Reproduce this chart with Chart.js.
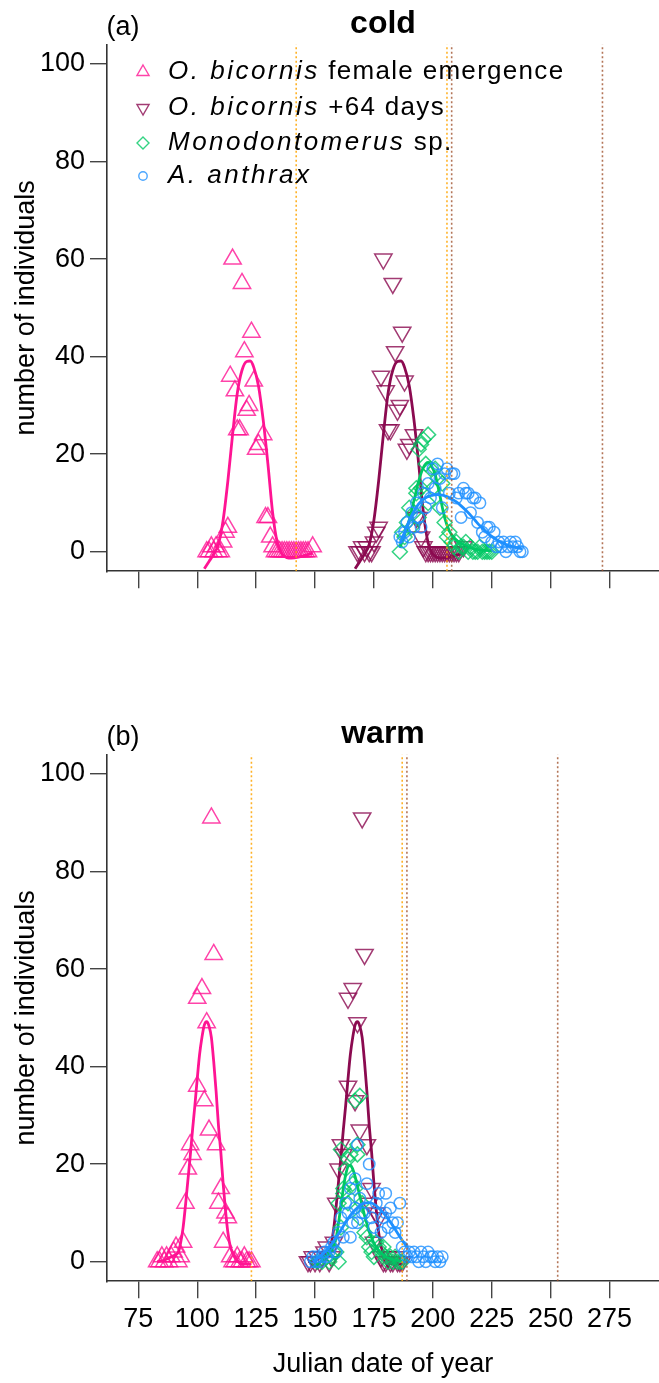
<!DOCTYPE html>
<html>
<head>
<meta charset="utf-8">
<title>Emergence of O. bicornis and its parasitoids – cold / warm</title>
<script src="https://cdn.jsdelivr.net/npm/chart.js@4.4.1/dist/chart.umd.min.js"></script>
<style>
  html, body { margin: 0; padding: 0; background: #fff; }
  #wrap { position: relative; width: 659px; height: 1383px; overflow: hidden; }
  #wrap canvas { position: absolute; left: 0; }
  #cvCold { top: 0; }
  #cvWarm { top: 710px; }
</style>
</head>
<body>
<div id="wrap">
  <canvas id="cvCold" width="659" height="600"></canvas>
  <canvas id="cvWarm" width="659" height="673"></canvas>
</div>
<script>
// === axes ===
const X_MIN = 61.7, X_MAX = 296;
const Y_MIN = -4, Y_MAX = 104;
const X_TICKS = [75, 100, 125, 150, 175, 200, 225, 250, 275];
const Y_TICKS = [0, 20, 40, 60, 80, 100];

// === cold ===
const coldFemaleDay = [104,105,106,107,108,109,110,111,112,113,114,115,116,117,118,119,120,121,122,123,124,125,126,128,129,130,131,132,133,134,135,136,137,138,139,140,141,142,143,144,145,146,147,149];
const coldFemaleN   = [0,0,1,0,1,0,0,2,4,5,36,60,33,25,25,55,41,29,30,45,35,21,22,24,7,7,3,1,0,0,0,0,0,0,0,0,0,0,0,0,0,0,0,1];
const coldShiftDay  = [168,169,170,171,172,173,174,175,176,177,178,179,180,181,182,183,184,185,186,187,188,189,190,192,193,194,195,196,197,198,199,200,201,202,203,204,205,206,207,208,209,210,211,213];
const coldShiftN    = [0,0,1,0,1,0,0,2,4,5,36,60,33,25,25,55,41,29,30,45,35,21,22,24,7,7,3,1,0,0,0,0,0,0,0,0,0,0,0,0,0,0,0,1];
const coldMonoDay   = [186,187,188,189,190,191,192,193,193,194,194,195,195,196,197,198,198,199,200,201,202,203,204,205,206,207,208,209,210,211,212,213,214,215,216,217,218,219,220,221,222,223,224,225];
const coldMonoN     = [0,4,3,6,9,5,8,12,13,21,7,13,22,23,18,24,10,17,13,17,15,9,14,6,3,4,2,1,2,0,1,1,2,0,1,0,0,0,1,0,0,0,0,0];
const coldAnthDay   = [186,187,188,189,190,191,192,193,194,195,196,197,198,199,200,201,202,203,204,205,206,207,208,209,210,211,212,213,214,215,216,217,218,219,220,221,222,223,224,225,226,227,228,229,230,231,232,233,234,235,236,237,238];
const coldAnthN     = [3,2,4,6,3,8,5,10,7,5,12,9,14,11,17,13,18,15,9,16,17,12,16,16,11,12,7,13,12,12,8,11,11,6,10,4,3,5,5,2,4,1,2,1,2,0,1,2,1,2,1,0,0];

// fitted curves (cold)
const coldFemaleFitDay = [103,105,107,109,111,113,115,117,119,121,122.5,124,126,128,130,132,134,136,138,140,143,146,149];
const coldFemaleFitN   = [-3.5,-2,-0.5,1.5,6.5,14.5,24,32.5,37.2,39,39.1,37.8,34,27,18,8,1.8,-0.5,-1.2,-1.3,-1.1,-0.7,-0.3];
const coldShiftFitDay  = [167,169,171,173,175,177,179,181,183,185,186.5,188,190,192,194,196,198,200,202,204,207,210,213];
const coldShiftFitN    = [-3.5,-2,-0.5,1.5,6.5,14.5,24,32.5,37.2,39,39.1,37.8,34,27,18,8,1.8,-0.5,-1.2,-1.3,-1.1,-0.7,-0.3];
const coldMonoFitDay   = [186,188,190,192,194,196,198,199.5,201,203,205,207,209,211,213,216,220,225];
const coldMonoFitN     = [0.8,3.5,6.5,10.5,14.5,17.3,18.3,17.5,15.8,11.5,7,4.3,2.8,2,1.5,0.8,0.3,0.2];
const coldAnthFitDay   = [186,188,190,192,194,196,198,200,202,204,206,208,210,212,214,216,218,220,222,224,226,228,230,232,234,236,238];
const coldAnthFitN     = [1.6,4,6.4,8.3,9.8,10.8,11.3,11.6,11.7,11.6,11.3,10.8,10.2,9.4,8.5,7.5,6.4,5.3,4.4,3.5,2.8,2.2,1.7,1.3,1,0.8,0.6];

const coldOrangeDays = [142, 206];
const coldBrownDays  = [208, 272];

// === warm ===
const warmFemaleDay = [83,84,85,86,87,88,89,90,91,92,93,94,95,96,97,98,100,100,102,103,104,105,106,107,108,109,110,111,112,113,114,115,116,117,118,119,120,121,122,123];
const warmFemaleN   = [0,0,1,0,1,0,1,2,3,0,1,4,12,19,24,22,36,54,56,33,49,27,91,63,24,12,15,4,10,9,1,0,0,1,0,0,1,0,0,0];
const warmShiftDay  = [147,148,149,150,151,152,153,154,155,156,157,158,159,160,161,162,164,164,166,167,168,169,170,171,172,173,174,175,176,177,178,179,180,181,182,183,184,185,186,187];
const warmShiftN    = [0,0,1,0,1,0,1,2,3,0,1,4,12,19,24,22,36,54,56,33,49,27,91,63,24,12,15,4,10,9,1,0,0,1,0,0,1,0,0,0];
const warmMonoDay   = [151,153,155,156,157,158,159,160,160,161,161,162,162,163,164,164,165,166,167,167,168,168,169,169,170,171,172,173,174,175,176,177,178,179,180,181,182,183,184,185,186,187];
const warmMonoN     = [0,0,1,0,1,2,2,12,0,23,7,14,15,19,12,21,22,16,15,33,24,22,34,9,12,6,5,3,2,1,4,3,2,3,1,0,1,0,1,0,0,0];
const warmAnthDay   = [148,149,150,151,152,153,154,155,156,157,158,159,160,161,162,163,164,165,165,166,167,167,168,168,169,170,171,172,173,174,175,176,177,178,179,180,180,181,182,183,184,185,186,187,188,189,190,191,192,193,194,195,196,197,198,199,200,201,202,203,204];
const warmAnthN     = [0,1,0,1,0,1,2,1,2,3,4,2,6,9,5,12,10,15,5,8,17,11,24,8,13,10,10,16,20,9,7,12,14,6,9,14,10,7,11,8,6,8,12,3,2,1,2,1,2,1,0,2,1,0,2,1,1,0,1,0,1];

// fitted curves (warm)
const warmFemaleFitDay = [83,86,89,91,92,93,94,95,96,97,98,99,100,101,102,103,104,105,106,107,108,109,110,111,112,113,114,115,116,117,119,121,123];
const warmFemaleFitN   = [0,0.3,1,1.5,2,4,7,11.5,16.5,21.5,27,32,37.5,42.5,46,48.5,49.2,48.3,46,41,35,28,22.5,16,10.5,6,3.2,1.8,0.8,0.2,-0.5,-0.5,-0.4];
const warmShiftFitDay  = [147,150,153,155,156,157,158,159,160,161,162,163,164,165,166,167,168,169,170,171,172,173,174,175,176,177,178,179,180,181,183,185,187];
const warmShiftFitN    = [0,0.3,1,1.5,2,4,7,11.5,16.5,21.5,27,32,37.5,42.5,46,48.5,49.2,48.3,46,41,35,28,22.5,16,10.5,6,3.2,1.8,0.8,0.2,-0.5,-0.5,-0.4];
const warmMonoFitDay   = [149,151,153,155,157,158,159,160,161,162,163,164,165,166,167,168,169,170,171,172,173,174,175,176,178,180,182,185,187];
const warmMonoFitN     = [-1.2,-0.5,0.3,1.2,2.3,3.3,5,8,11.5,15,17.8,19.5,19.8,19,17.5,15.5,13.5,11.5,9.5,7.8,6.2,4.9,3.8,3,1.8,1,0.6,0.2,0.1];
const warmAnthFitDay   = [149,151,153,155,157,159,161,163,165,167,169,171,173,175,177,179,181,183,185,187,189];
const warmAnthFitN     = [0,0.7,1.5,2.4,3.6,5,6.5,8.1,9.5,10.6,11.5,12,12.1,11.8,11,10,8.8,7.4,5.9,4.4,3];

const warmOrangeDays = [123, 187];
const warmBrownDays  = [189, 253];

// legend entries: italic part + plain part
const LEGEND = [
  { it: 'O. bicornis', rest: ' female emergence' },
  { it: 'O. bicornis', rest: ' +64 days' },
  { it: 'Monodontomerus', rest: ' sp.' },
  { it: 'A. anthrax', rest: '' }
];

// === styles ===
const FONT = '"Liberation Sans", Arial, Helvetica, sans-serif';
const COL = {
  female: '#FF1493', shift: '#8B0A50', mono: '#00C864', anth: '#1E90FF',
  femaleMk: 'rgba(255,20,147,0.8)', shiftMk: 'rgba(139,10,80,0.8)',
  monoMk: 'rgba(0,200,100,0.8)', anthMk: 'rgba(30,144,255,0.8)',
  orange: 'rgba(255,165,0,0.85)', brown: 'rgba(160,82,45,0.8)'
};
const MK = {
  female: { pointStyle: 'triangle', rotation: 0, radius: 10 },
  shift:  { pointStyle: 'triangle', rotation: 180, radius: 10 },
  mono:   { pointStyle: 'rectRot', rotation: 0, radius: 7.5 },
  anth:   { pointStyle: 'circle', rotation: 0, radius: 5.7 }
};
const PLOT_TOP = 44.5, PLOT_H = 526.7;

Chart.defaults.font.family = FONT;
Chart.defaults.font.size = 27;
Chart.defaults.color = '#000';

function pts(xs, ys) { return xs.map((x, i) => ({ x, y: ys[i] })); }

function markers(xs, ys, key, order) {
  const m = MK[key];
  return {
    data: pts(xs, ys), order,
    showLine: false,
    pointStyle: m.pointStyle, pointRotation: m.rotation, pointRadius: m.radius,
    pointBorderColor: COL[key + 'Mk'], pointBackgroundColor: 'rgba(0,0,0,0)',
    pointBorderWidth: 1.5
  };
}

function curve(xs, ys, key, order) {
  return {
    data: pts(xs, ys), order,
    showLine: true, pointRadius: 0,
    borderColor: COL[key], borderWidth: 2.8,
    cubicInterpolationMode: 'monotone', fill: false
  };
}

function vlines(days, color) {
  return days.map(d => ({
    data: [{ x: d, y: Y_MIN }, { x: d, y: Y_MAX }], order: 0,
    showLine: true, pointRadius: 0,
    borderColor: color, borderWidth: 1.6, borderDash: [2, 2.5]
  }));
}

// panel tag, title and (top panel only) legend
const panelText = {
  id: 'panelText',
  afterDraw(chart, args, o) {
    const { ctx, chartArea } = chart;
    ctx.save();
    ctx.fillStyle = '#000';
    ctx.textBaseline = 'alphabetic';
    ctx.textAlign = 'center';
    ctx.font = `27px ${FONT}`;
    ctx.fillText(o.tag, 123, chartArea.top - 10);
    ctx.font = `bold 32px ${FONT}`;
    ctx.fillText(o.title, (chartArea.left + chartArea.right) / 2, chartArea.top - 11.5);

    if (o.legend) {
      const keys = ['female', 'shift', 'mono', 'anth'];
      const rowY = [72, 108, 143, 176];
      const small = { female: 7, shift: 7, mono: 6, anth: 4.2 };
      LEGEND.forEach((e, i) => {
        const k = keys[i], y = rowY[i];
        ctx.strokeStyle = COL[k + 'Mk'];
        ctx.fillStyle = 'rgba(0,0,0,0)';
        ctx.lineWidth = 1.4;
        Chart.helpers.drawPoint(ctx, {
          pointStyle: MK[k].pointStyle, rotation: MK[k].rotation,
          radius: small[k], borderWidth: 1.4
        }, 143, y);
        ctx.fillStyle = '#000';
        ctx.textAlign = 'left';
        ctx.textBaseline = 'middle';
        ctx.font = `italic 26px ${FONT}`;
        ctx.letterSpacing = '2.5px';
        ctx.fillText(e.it, 168, y);
        const w = ctx.measureText(e.it).width;
        ctx.font = `26px ${FONT}`;
        ctx.letterSpacing = '1.3px';
        ctx.fillText(e.rest, 168 + w, y);
        ctx.letterSpacing = '0px';
      });
    }
    ctx.restore();
  }
};

function buildPanel(canvas, datasets, opts) {
  const H = canvas.height;
  return new Chart(canvas, {
    type: 'scatter',
    data: { datasets },
    options: {
      responsive: false,
      animation: false,
      events: [],
      layout: { autoPadding: false, padding: { top: PLOT_TOP, left: 0, right: 0, bottom: 0 } },
      plugins: {
        legend: { display: false },
        tooltip: { enabled: false },
        panelText: { tag: opts.tag, title: opts.title, legend: opts.legend }
      },
      scales: {
        x: {
          type: 'linear', min: X_MIN, max: X_MAX,
          afterBuildTicks: s => { s.ticks = X_TICKS.map(v => ({ value: v })); },
          afterFit: s => { s.height = H - PLOT_TOP - PLOT_H; },
          ticks: { display: opts.xLabels, padding: 5, color: '#000' },
          grid: { drawOnChartArea: false, drawTicks: true, tickLength: 17, color: '#444', lineWidth: 1.4 },
          border: { display: true, color: '#333', width: 1.6 },
          title: {
            display: opts.xLabels, text: 'Julian date of year',
            color: '#000', padding: { top: 0, bottom: 2 }
          }
        },
        y: {
          type: 'linear', min: Y_MIN, max: Y_MAX,
          afterBuildTicks: s => { s.ticks = Y_TICKS.map(v => ({ value: v })); },
          afterFit: s => { s.width = 107; },
          ticks: { padding: 5, color: '#000' },
          grid: { drawOnChartArea: false, drawTicks: true, tickLength: 17, color: '#444', lineWidth: 1.4 },
          border: { display: true, color: '#333', width: 1.6 },
          title: {
            display: true, text: 'number of individuals',
            color: '#000', padding: { top: 10, bottom: 0 }
          }
        }
      }
    },
    plugins: [panelText]
  });
}

function panelSets(d) {
  return [
    markers(d.femaleDay, d.femaleN, 'female', 9),
    curve(d.femaleFitDay, d.femaleFitN, 'female', 8),
    markers(d.shiftDay, d.shiftN, 'shift', 7),
    curve(d.shiftFitDay, d.shiftFitN, 'shift', 6),
    markers(d.monoDay, d.monoN, 'mono', 5),
    curve(d.monoFitDay, d.monoFitN, 'mono', 4),
    markers(d.anthDay, d.anthN, 'anth', 3),
    curve(d.anthFitDay, d.anthFitN, 'anth', 2),
    ...vlines(d.orange, COL.orange),
    ...vlines(d.brown, COL.brown)
  ];
}

buildPanel(document.getElementById('cvCold'), panelSets({
  femaleDay: coldFemaleDay, femaleN: coldFemaleN, femaleFitDay: coldFemaleFitDay, femaleFitN: coldFemaleFitN,
  shiftDay: coldShiftDay, shiftN: coldShiftN, shiftFitDay: coldShiftFitDay, shiftFitN: coldShiftFitN,
  monoDay: coldMonoDay, monoN: coldMonoN, monoFitDay: coldMonoFitDay, monoFitN: coldMonoFitN,
  anthDay: coldAnthDay, anthN: coldAnthN, anthFitDay: coldAnthFitDay, anthFitN: coldAnthFitN,
  orange: coldOrangeDays, brown: coldBrownDays
}), { tag: '(a)', title: 'cold', legend: true, xLabels: false });

buildPanel(document.getElementById('cvWarm'), panelSets({
  femaleDay: warmFemaleDay, femaleN: warmFemaleN, femaleFitDay: warmFemaleFitDay, femaleFitN: warmFemaleFitN,
  shiftDay: warmShiftDay, shiftN: warmShiftN, shiftFitDay: warmShiftFitDay, shiftFitN: warmShiftFitN,
  monoDay: warmMonoDay, monoN: warmMonoN, monoFitDay: warmMonoFitDay, monoFitN: warmMonoFitN,
  anthDay: warmAnthDay, anthN: warmAnthN, anthFitDay: warmAnthFitDay, anthFitN: warmAnthFitN,
  orange: warmOrangeDays, brown: warmBrownDays
}), { tag: '(b)', title: 'warm', legend: false, xLabels: true });
</script>
</body>
</html>
